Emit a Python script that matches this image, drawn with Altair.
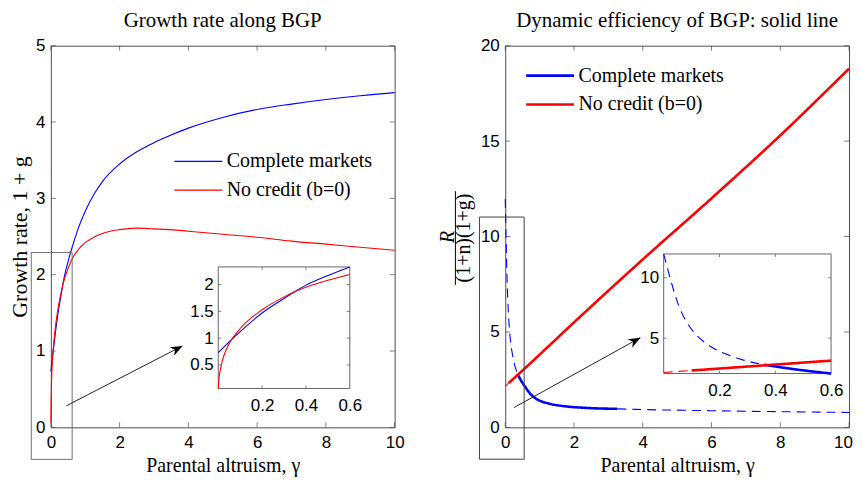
import math
import altair as alt
import pandas as pd

# ---------------- data ----------------
SERIES = ["Complete markets", "No credit (b=0)"]
COLORS = ["#0000ff", "#ff0000"]

# Left panel: growth rate along BGP (1+g) vs parental altruism gamma
gamma_growth = [0, 0.005, 0.01, 0.02, 0.05, 0.1, 0.2, 0.3, 0.35, 0.4, 0.5, 0.6, 0.8, 1.0, 1.25,
                1.5, 2.0, 2.5, 3.0, 3.5, 4.0, 5.0, 6.0, 7.0, 8.0, 9.0, 10.0]
growth_complete = [0.73, 0.75, 0.77, 0.81, 0.93, 1.12, 1.47, 1.74, 1.87, 1.99, 2.17, 2.33, 2.61, 2.83,
                   3.05, 3.22, 3.45, 3.61, 3.73, 3.83, 3.92, 4.06, 4.165, 4.235, 4.295, 4.345, 4.385]
growth_nocredit = [0.06, 0.30, 0.42, 0.60, 0.90, 1.18, 1.53, 1.77, 1.87, 1.95, 2.08, 2.19, 2.33, 2.42,
                   2.49, 2.54, 2.59, 2.61, 2.60, 2.59, 2.57, 2.53, 2.49, 2.44, 2.40, 2.36, 2.32]

# Right panel: R / ((1+n)(1+g))
gamma_eff_complete = [0, 0.024, 0.054, 0.083, 0.114, 0.162, 0.221, 0.281, 0.36, 0.461, 0.6, 0.7,
                      0.79, 0.9, 1.0, 1.28, 1.76, 2.34, 3.26, 3.8, 5.0, 6.0, 8.0, 10.0]
eff_complete = [11.97, 9.9, 7.68, 6.31, 5.35, 4.4, 3.71, 3.22, 2.80, 2.45, 2.07, 1.82,
                1.65, 1.50, 1.40, 1.24, 1.10, 1.02, 0.97, 0.94, 0.90, 0.87, 0.82, 0.78]
gamma_eff_nocredit = [0, 0.1, 0.6, 2.0, 4.0, 6.0, 8.0, 10.0]
eff_nocredit = [2.16, 2.32, 3.14, 5.5, 8.8, 12.0, 15.3, 18.8]
solid_complete = [0.36, 3.26]     # solid (dynamically efficient) range of gamma
solid_nocredit = [0.1, 10.0]

# axes
x_ticks = [0, 2, 4, 6, 8, 10]
left_y_ticks = [0, 1, 2, 3, 4, 5]
right_y_ticks = [0, 5, 10, 15, 20]
inset_x_ticks = [0.2, 0.4, 0.6]
left_inset_y_ticks = [0.5, 1, 1.5, 2]
right_inset_y_ticks = [5, 10]
left_x_domain, left_y_domain = [0, 10], [0, 5]
right_x_domain, right_y_domain = [0, 10], [0, 20]
inset_x_domain = [0, 0.6]
left_inset_y_domain = [0.06, 2.33]
right_inset_y_domain = [2.07, 11.97]

# zoom boxes and arrows (data coordinates of main panels)
left_box = dict(x=[-0.57], x2=[0.62], y=[-0.42], y2=[2.29])
right_box = dict(x=[-0.75], x2=[0.55], y=[-1.67], y2=[11.02])
left_arrow = dict(x=[0.455], y=[0.283], x2=[3.83], y2=[1.067])
right_arrow = dict(x=[0.26], y=[1.04], x2=[3.93], y2=[4.70])

titles = ["Growth rate along BGP", "Dynamic efficiency of BGP: solid line"]
x_title = "Parental altruism, γ"
left_y_title = "Growth rate, 1 + g"
frac_num, frac_den = "R", "(1+n)(1+g)"

# ---------------- style ----------------
W, H = 345, 383
SERIF = "Liberation Serif"
SANS = "Liberation Sans"
BOX = "#4d4d4d"
L_INSET_X, L_INSET_Y = [168, 300], [344, 222]
R_INSET_X, R_INSET_Y = [159, 327], [329, 209]
ARROW_PATH = "M0,0L-2,-0.8L-1.4,0L-2,0.8Z"
LABEL_EXPR = "toString(datum.value)"


def sc(domain, rng=None):
    if rng is None:
        return alt.Scale(domain=domain, nice=False, zero=False)
    return alt.Scale(domain=domain, range=rng, nice=False, zero=False)


def ticks_layers(xv, yv, xdom, ydom, xs, ys, length):
    half = length / 2.0
    out = []
    for yedge, off in ((ydom[0], -half), (ydom[1], half)):
        d = pd.DataFrame({"x": xv, "y": [yedge] * len(xv)})
        out.append(alt.Chart(d).mark_tick(orient="vertical", size=length, thickness=1,
                                          color=BOX, yOffset=off).encode(
            x=alt.X("x:Q", scale=xs, axis=None), y=alt.Y("y:Q", scale=ys, axis=None)))
    for xedge, off in ((xdom[0], half), (xdom[1], -half)):
        d = pd.DataFrame({"x": [xedge] * len(yv), "y": yv})
        out.append(alt.Chart(d).mark_tick(orient="horizontal", size=length, thickness=1,
                                          color=BOX, xOffset=off).encode(
            x=alt.X("x:Q", scale=xs, axis=None), y=alt.Y("y:Q", scale=ys, axis=None)))
    return out


def arrow_layers(a, xs, ys, xdom, ydom, color):
    d = pd.DataFrame(a)
    pxu = W / (xdom[1] - xdom[0])
    pyu = H / (ydom[1] - ydom[0])
    dx = (a["x2"][0] - a["x"][0]) * pxu
    dy = (a["y2"][0] - a["y"][0]) * pyu
    ang = (360 - math.degrees(math.atan2(dy, dx))) % 360
    rule = alt.Chart(d).mark_rule(color=color, strokeWidth=1).encode(
        x=alt.X("x:Q", scale=xs, axis=None), y=alt.Y("y:Q", scale=ys, axis=None),
        x2="x2:Q", y2="y2:Q")
    head = alt.Chart(d).mark_point(shape=ARROW_PATH, filled=True, size=144, color="black",
                                   opacity=1, angle=ang).encode(
        x=alt.X("x2:Q", scale=xs, axis=None), y=alt.Y("y2:Q", scale=ys, axis=None))
    return [rule, head]


def box_layer(b, xs, ys, color):
    return alt.Chart(pd.DataFrame(b)).mark_rect(fillOpacity=0, stroke=color, strokeWidth=1,
                                                clip=False).encode(
        x=alt.X("x:Q", scale=xs, axis=None), x2="x2:Q",
        y=alt.Y("y:Q", scale=ys, axis=None), y2="y2:Q")


def main_x_axis(last_shift=0):
    return alt.Axis(orient="bottom", values=x_ticks, title=x_title, labelPadding=7,
                    titlePadding=5, titleFontSize=20, labelExpr=LABEL_EXPR,
                    labelOffset=alt.condition("datum.value == 10", alt.value(last_shift),
                                              alt.value(0)))


def inset_axes(xoff, ybottom, yvals):
    ax = alt.Axis(orient="bottom", offset=-(H - ybottom), values=inset_x_ticks,
                  labelExpr=LABEL_EXPR, title=None, labelPadding=9)
    ay = alt.Axis(orient="left", offset=-xoff, values=yvals, labelExpr=LABEL_EXPR,
                  title=None, labelPadding=5)
    return ax, ay


def legend(lx, ly, sw):
    return alt.Legend(orient="none", legendX=lx, legendY=ly, title=None,
                      symbolType="M-4,0L4,0", symbolSize=144, symbolStrokeWidth=sw,
                      labelFont=SERIF, labelFontSize=20, labelColor="black",
                      labelOffset=18.5, rowPadding=9, padding=0)


def inset_bg(ydom, xs, ys, ax, ay):
    d = pd.DataFrame({"x": [inset_x_domain[0]], "x2": [inset_x_domain[1]],
                      "y": [ydom[0]], "y2": [ydom[1]]})
    return alt.Chart(d).mark_rect(fill="white", stroke="#666666", strokeWidth=1).encode(
        x=alt.X("x:Q", scale=xs, axis=ax), x2="x2:Q",
        y=alt.Y("y:Q", scale=ys, axis=ay), y2="y2:Q")


# ---------------- left panel ----------------
rows = []
for name, ys in zip(SERIES, [growth_complete, growth_nocredit]):
    for x, y in zip(gamma_growth, ys):
        rows.append({"x": x, "y": y, "series": name})
df_left = pd.DataFrame(rows)

lxs, lys = sc(left_x_domain), sc(left_y_domain)
color_left = alt.Color("series:N", scale=alt.Scale(domain=SERIES, range=COLORS),
                       legend=legend(138, 106, 1.2))

left_lines = alt.Chart(df_left).mark_line(strokeWidth=1.1, interpolate="monotone").encode(
    x=alt.X("x:Q", scale=lxs, axis=main_x_axis(0)),
    y=alt.Y("y:Q", scale=lys, axis=alt.Axis(orient="left", values=left_y_ticks,
                                            title=left_y_title, labelPadding=6,
                                            titlePadding=4, titleFontSize=22,
                                            labelExpr=LABEL_EXPR)),
    color=color_left)

lixs, liys = sc(inset_x_domain, L_INSET_X), sc(left_inset_y_domain, L_INSET_Y)
lax, lay = inset_axes(L_INSET_X[0], L_INSET_Y[0], left_inset_y_ticks)
left_inset_lines = alt.Chart(df_left).transform_filter(
    alt.datum.x <= inset_x_domain[1]).mark_line(strokeWidth=1.1, interpolate="monotone").encode(
    x=alt.X("x:Q", scale=lixs, axis=None), y=alt.Y("y:Q", scale=liys, axis=None),
    color=alt.Color("series:N", scale=alt.Scale(domain=SERIES, range=COLORS), legend=None))

left_chart = alt.layer(
    left_lines,
    *ticks_layers(x_ticks, left_y_ticks, left_x_domain, left_y_domain, lxs, lys, 5),
    box_layer(left_box, lxs, lys, "#707070"),
    *arrow_layers(left_arrow, lxs, lys, left_x_domain, left_y_domain, "#222222"),
    inset_bg(left_inset_y_domain, lixs, liys, lax, lay),
    left_inset_lines,
    *ticks_layers(inset_x_ticks[:-1], left_inset_y_ticks, inset_x_domain, left_inset_y_domain,
                  lixs, liys, 3),
).resolve_scale(x="independent", y="independent").properties(
    width=W, height=H, title=alt.Title(titles[0]))


# ---------------- right panel ----------------
def segment_rows(xs, ys, name, solid, prefix):
    out = []
    for x, y in zip(xs, ys):
        if x <= solid[0]:
            out.append({"x": x, "y": y, "series": name, "style": "dashed", "seg": prefix + "1"})
        if solid[0] <= x <= solid[1]:
            out.append({"x": x, "y": y, "series": name, "style": "solid", "seg": prefix + "2"})
        if x >= solid[1]:
            out.append({"x": x, "y": y, "series": name, "style": "dashed", "seg": prefix + "3"})
    return out


df_right = pd.DataFrame(
    segment_rows(gamma_eff_complete, eff_complete, SERIES[0], solid_complete, "c")
    + segment_rows(gamma_eff_nocredit, eff_nocredit, SERIES[1], solid_nocredit, "n"))

rxs, rys = sc(right_x_domain), sc(right_y_domain)
dash_scale = alt.Scale(domain=["solid", "dashed"], range=[[1, 0], [9, 6]])
width_scale = alt.Scale(domain=["solid", "dashed"], range=[2.6, 1.1])


def styled_line(df, xs, ys, xaxis, yaxis, leg):
    return alt.Chart(df).mark_line(interpolate="monotone").encode(
        x=alt.X("x:Q", scale=xs, axis=xaxis), y=alt.Y("y:Q", scale=ys, axis=yaxis),
        color=alt.Color("series:N", scale=alt.Scale(domain=SERIES, range=COLORS), legend=leg),
        strokeDash=alt.StrokeDash("style:N", scale=dash_scale, legend=None),
        strokeWidth=alt.StrokeWidth("style:N", scale=width_scale, legend=None),
        detail="seg:N", order="x:Q")


right_lines = styled_line(df_right, rxs, rys, main_x_axis(-6),
                          alt.Axis(orient="left", values=right_y_ticks, title=None,
                                   labelPadding=6, labelExpr=LABEL_EXPR),
                          legend(35, 20, 2.6))

frac_num_layer = alt.Chart(pd.DataFrame({"t": [frac_num]})).mark_text(
    angle=270, font=SERIF, fontSize=20, fontStyle="italic", color="black",
    baseline="middle").encode(
    text="t:N", x=alt.value(-57), y=alt.value(192))
frac_bar = alt.Chart(pd.DataFrame({"t": [frac_num]})).mark_rule(color="black", strokeWidth=1).encode(
    x=alt.value(-50), y=alt.value(146), y2=alt.value(240))
frac_den_layer = alt.Chart(pd.DataFrame({"t": [frac_den]})).mark_text(
    angle=270, font=SERIF, fontSize=20, color="black", baseline="middle").encode(
    text="t:N", x=alt.value(-41), y=alt.value(193))

rixs, riys = sc(inset_x_domain, R_INSET_X), sc(right_inset_y_domain, R_INSET_Y)
rax, ray = inset_axes(R_INSET_X[0], R_INSET_Y[0], right_inset_y_ticks)
right_inset_lines = styled_line(
    df_right[df_right["x"] <= inset_x_domain[1]], rixs, riys, None, None, None)

right_chart = alt.layer(
    right_lines,
    *ticks_layers(x_ticks, right_y_ticks, right_x_domain, right_y_domain, rxs, rys, 5),
    box_layer(right_box, rxs, rys, "#404040"),
    *arrow_layers(right_arrow, rxs, rys, right_x_domain, right_y_domain, "#222222"),
    frac_num_layer, frac_bar, frac_den_layer,
    inset_bg(right_inset_y_domain, rixs, riys, rax, ray),
    right_inset_lines,
    *ticks_layers(inset_x_ticks[:-1], right_inset_y_ticks, inset_x_domain, right_inset_y_domain,
                  rixs, riys, 3),
).resolve_scale(x="independent", y="independent").properties(
    width=W, height=H, title=alt.Title(titles[1]))

chart = alt.hconcat(left_chart, right_chart, spacing=33).resolve_scale(
    color="independent", strokeDash="independent", strokeWidth="independent").resolve_legend(
    color="independent").properties(
    padding={"left": 0, "top": 0, "right": 0, "bottom": 0}
).configure_view(stroke=BOX, strokeWidth=1).configure_axis(
    labelFont=SANS, labelFontSize=17, labelColor="black", titleFont=SERIF, titleFontSize=21,
    titleFontWeight="normal", titleColor="black", ticks=False, domain=False, grid=False,
    labelFlush=False
).configure_title(font=SERIF, fontSize=21, fontWeight="normal", color="black",
                  anchor="middle", offset=6)

chart.save("out.html", embed_options={"renderer": "svg", "actions": False})
